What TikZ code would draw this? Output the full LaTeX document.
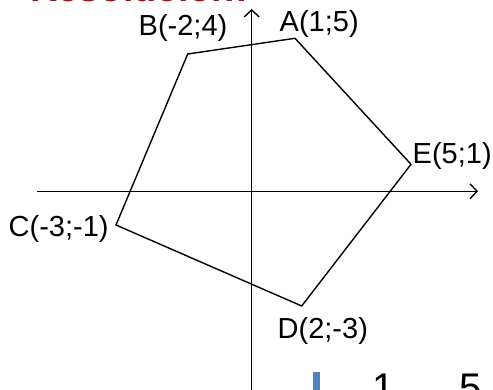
\documentclass[tikz,border=0pt]{standalone}
\usepackage{fontspec}
\setmainfont{Liberation Sans}
\usetikzlibrary{arrows.meta}
\definecolor{titlered}{RGB}{200,0,0}
\definecolor{barblue}{RGB}{79,129,189}
\begin{document}
\begin{tikzpicture}[x=1pt,y=-1pt,
  lab/.style={anchor=base west, inner sep=0pt, font=\fontsize{29}{32}\selectfont},
  axisline/.style={line width=1.4pt, -{Straight Barb[length=7pt,width=15pt]}},
  poly/.style={line width=1.4pt, line join=miter},
  bignum/.style={anchor=base west, inner sep=0pt, font=\fontsize{40}{44}\selectfont}]
\useasboundingbox (0,0) rectangle (493,390);
\clip (0,0) rectangle (493,390);
% title (cut off at top)
\node[anchor=base west, inner sep=0pt, text=titlered, font=\fontsize{38}{42}\selectfont\bfseries] (title) at (30,1.5) {Resolución:};
% axes
\coordinate (xs) at (37,191.3);
\coordinate (xe) at (478,191.3);
\coordinate (ys) at (251.7,392);
\coordinate (ye) at (251.7,9);
\draw[axisline] (xs) -- (xe);
\draw[axisline] (ys) -- (ye);
% polygon vertices
\coordinate (A) at (295,38.3);
\coordinate (B) at (187.7,54);
\coordinate (C) at (116,225);
\coordinate (D) at (301.7,306);
\coordinate (E) at (411,164.3);
\draw[poly] (A) -- (B) -- (C) -- (D) -- (E) -- cycle;
% labels
\node[lab] (la) at (279.5,32) {A(1;5)};
\node[lab] (lb) at (138.5,35.5) {B(-2;4)};
\node[lab] (lc) at (8.5,236.5) {C(-3;-1)};
\node[lab] (ld) at (277.5,338) {D(2;-3)};
\node[lab] (le) at (412.5,163.5) {E(5;1)};
% bottom fragments
\fill[barblue] (313,372) rectangle (320,392);
\node[bignum] (n1) at (372,401) {1};
\node[bignum] (n5) at (459,401) {5};
\end{tikzpicture}
\end{document}
